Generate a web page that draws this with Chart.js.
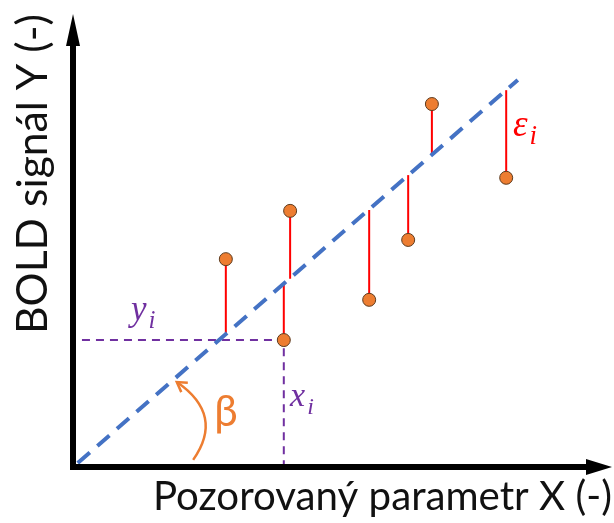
<!DOCTYPE html>
<html>
<head>
<meta charset="utf-8">
<script src="https://cdn.jsdelivr.net/npm/chart.js@4/dist/chart.umd.min.js"></script>
<style>
  body { margin: 0; background: #fff; }
  #wrap { width: 614px; height: 523px; }
</style>
</head>
<body>
<div id="wrap"><canvas id="chart" width="614" height="523"></canvas></div>
<script>
// observed samples (x_i, y_i) and the value of the fitted line at each x_i
const obsX = [2.90, 4.12, 4.00, 5.62, 6.36, 6.81, 8.22];
const obsY = [4.65, 5.73, 2.84, 3.74, 5.08, 8.12, 6.47];
const fitY = [2.98, 4.21, 4.10, 5.75, 6.53, 6.98, 8.43];

// regression line ends
const lineX = [0.09, 8.44];
const lineY = [0.09, 8.66];

// highlighted sample (x_i, y_i) used for the guide lines
const guideX = [0.17, 4.00, 4.00];
const guideY = [2.84, 2.84, 0];

const xTitle = 'Pozorovaný parametr X (-)';
const yTitle = 'BOLD signál Y (-)';

const BLUE = '#4472C4';
const ORANGE = '#ED7D31';
const RED = '#FF0000';
const PURPLE = '#7030A0';

const toPts = (xs, ys) => xs.map((x, i) => ({ x: x, y: ys[i] }));

const residuals = obsX.map((x, i) => ({
  type: 'line',
  data: [{ x: x, y: obsY[i] }, { x: x, y: fitY[i] }],
  borderColor: RED,
  borderWidth: 2,
  pointRadius: 0,
  order: 3,
}));

// axes with arrows + annotation texts
const decorations = {
  id: 'decorations',
  afterDatasetsDraw(chart) {
    const ctx = chart.ctx;
    const a = chart.chartArea;
    const sx = chart.scales.x, sy = chart.scales.y;
    const px = v => sx.getPixelForValue(v);
    const py = v => sy.getPixelForValue(v);
    ctx.save();

    // axes
    ctx.strokeStyle = '#000';
    ctx.fillStyle = '#000';
    ctx.lineWidth = 6;
    ctx.beginPath();
    ctx.moveTo(a.left, 45);
    ctx.lineTo(a.left, a.bottom);
    ctx.lineTo(588, a.bottom);
    ctx.stroke();
    ctx.beginPath();
    ctx.moveTo(a.left, 14);
    ctx.lineTo(a.left - 7, 46);
    ctx.lineTo(a.left + 7, 46);
    ctx.closePath();
    ctx.fill();
    ctx.beginPath();
    ctx.moveTo(612, a.bottom);
    ctx.lineTo(586, a.bottom - 8);
    ctx.lineTo(586, a.bottom + 8);
    ctx.closePath();
    ctx.fill();

    // axis titles
    ctx.fillStyle = '#111';
    ctx.textBaseline = 'alphabetic';
    ctx.textAlign = 'left';
    let fs = 30;
    ctx.font = fs + 'px Lato';
    fs = fs * 459 / ctx.measureText(xTitle).width;
    ctx.font = fs + 'px Lato';
    ctx.fillText(xTitle, 153, 510);
    ctx.save();
    ctx.translate(47, 334);
    ctx.rotate(-Math.PI / 2);
    ctx.font = fs + 'px Lato';
    const wy = ctx.measureText(yTitle).width;
    ctx.font = (fs * 320 / wy) + 'px Lato';
    ctx.fillText(yTitle, 0, 0);
    ctx.restore();

    // beta arc with arrow
    ctx.strokeStyle = ORANGE;
    ctx.lineWidth = 2.5;
    const s = [px(2.28), py(0.16)], c = [px(2.88), py(1.16)], e = [px(1.97), py(1.90)];
    ctx.beginPath();
    ctx.moveTo(s[0], s[1]);
    ctx.quadraticCurveTo(c[0], c[1], e[0], e[1]);
    ctx.stroke();
    const ang = Math.atan2(e[1] - c[1], e[0] - c[0]);
    ctx.beginPath();
    ctx.moveTo(e[0] - 11 * Math.cos(ang - 0.55), e[1] - 11 * Math.sin(ang - 0.55));
    ctx.lineTo(e[0], e[1]);
    ctx.lineTo(e[0] - 11 * Math.cos(ang + 0.55), e[1] - 11 * Math.sin(ang + 0.55));
    ctx.stroke();

    ctx.fillStyle = ORANGE;
    ctx.font = '42px Lato';
    ctx.fillText('β', px(2.68), py(0.92));

    // math labels
    const mathLabel = (base, x, y, color, size) => {
      ctx.fillStyle = color;
      ctx.font = 'italic ' + size + 'px "Liberation Serif"';
      ctx.fillText(base, x, y);
      const w = ctx.measureText(base).width;
      ctx.font = 'italic ' + Math.round(size * 0.72) + 'px "Liberation Serif"';
      ctx.fillText('i', x + w + 2, y + 8);
    };
    mathLabel('y', px(1.10), py(3.28), PURPLE, 35);
    mathLabel('x', px(4.12), py(1.36), PURPLE, 34);
    mathLabel('ε', px(8.35), py(7.4), RED, 37);

    ctx.restore();
  }
};

new Chart(document.getElementById('chart'), {
  type: 'scatter',
  data: {
    datasets: [
      {
        type: 'scatter',
        data: toPts(obsX, obsY),
        backgroundColor: ORANGE,
        borderColor: '#5b3a1e',
        borderWidth: 1,
        pointRadius: 6.5,
        order: 0,
      },
      ...residuals,
      {
        type: 'line',
        data: toPts(lineX, lineY),
        borderColor: BLUE,
        borderWidth: 4,
        borderDash: [16, 10],
        pointRadius: 0,
        order: 2,
      },
      {
        type: 'line',
        data: toPts(guideX, guideY),
        borderColor: PURPLE,
        borderWidth: 2,
        borderDash: [8, 6],
        pointRadius: 0,
        order: 4,
      },
    ],
  },
  options: {
    responsive: false,
    animation: false,
    layout: { padding: { left: 73, right: 14, top: 20, bottom: 56 } },
    scales: {
      x: { type: 'linear', min: 0, max: 10, display: false },
      y: { type: 'linear', min: 0, max: 10, display: false },
    },
    plugins: {
      legend: { display: false },
      tooltip: { enabled: false },
    },
  },
  plugins: [decorations],
});
</script>
</body>
</html>
